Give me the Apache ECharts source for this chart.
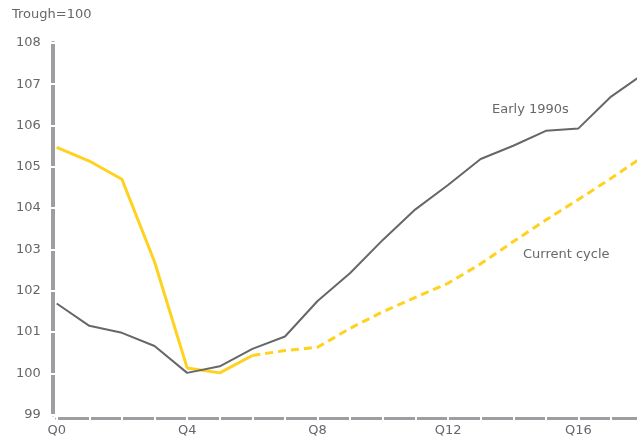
<!DOCTYPE html>
<html>
<head>
<meta charset="utf-8">
<script src="https://cdn.jsdelivr.net/npm/echarts@6/dist/echarts.min.js"></script>
<style>
html,body{margin:0;padding:0;background:#fff;}
#chart{width:637px;height:438px;}
</style>
</head>
<body>
<div id="chart"></div>
<script>
const categories = ['Q0','Q1','Q2','Q3','Q4','Q5','Q6','Q7','Q8','Q9','Q10','Q11','Q12','Q13','Q14','Q15','Q16','Q17','Q18'];
const early1990s = [101.69, 101.15, 100.98, 100.66, 100.01, 100.17, 100.59, 100.89, 101.75, 102.43, 103.23, 103.97, 104.56, 105.19, 105.51, 105.87, 105.93, 106.70, 107.25];
const currentActual = [105.47, 105.14, 104.70, 102.70, 100.13, 100.01, 100.43, null, null, null, null, null, null, null, null, null, null, null, null];
const currentForecast = [null, null, null, null, null, null, 100.43, 100.55, 100.63, 101.09, 101.49, 101.84, 102.18, 102.65, 103.19, 103.71, 104.21, 104.72, 105.26];
const yTicks = { min: 99, max: 108, interval: 1 };
const unitLabel = 'Trough=100';
const seriesLabels = ['Early 1990s', 'Current cycle'];

const FONT = 'DejaVu Sans';
const TXT = '#66676b';
const AXIS = '#9d9ea2';
const GRAY = '#66676a';
const YEL = '#ffd21f';

const chart = echarts.init(document.getElementById('chart'), null, {renderer:'canvas'});
const grid = {left: 56.7, top: 42.9, width: 587, height: 371.7, outerBoundsMode: 'none', containLabel: false};

chart.setOption({
  animation: false,
  backgroundColor: '#fff',
  grid: grid,
  xAxis: [{
    type: 'category', data: categories, boundaryGap: false, offset: 4, z: 0,
    axisLine: {show: true, lineStyle: {color: AXIS, width: 3}},
    axisTick: {show: false},
    axisLabel: {interval: 3, color: TXT, fontFamily: FONT, fontSize: 13, margin: 6},
    splitLine: {show: false}
  }, {
    type: 'category', data: categories, boundaryGap: false, offset: 6, position: 'bottom', z: 1,
    axisLine: {show: false},
    axisTick: {show: true, interval: 0, inside: true, length: 5, lineStyle: {color: '#fff', width: 2}},
    axisLabel: {show: false},
    splitLine: {show: false}
  }],
  yAxis: [{
    type: 'value', min: yTicks.min, max: yTicks.max, interval: yTicks.interval, offset: 4, z: 0,
    axisLine: {show: true, lineStyle: {color: AXIS, width: 4}},
    axisTick: {show: false},
    axisLabel: {color: TXT, fontFamily: FONT, fontSize: 13, margin: 12},
    splitLine: {show: false}
  }, {
    type: 'value', min: yTicks.min, max: yTicks.max, interval: yTicks.interval, offset: 6.5, position: 'left', z: 1,
    axisLine: {show: false},
    axisTick: {show: true, inside: true, length: 5.5, lineStyle: {color: '#fff', width: 2}},
    axisLabel: {show: false},
    splitLine: {show: false}
  }],
  series: [{
    name: seriesLabels[0], type: 'line', data: early1990s, symbol: 'none', z: 3,
    lineStyle: {color: GRAY, width: 2}
  }, {
    name: seriesLabels[1], type: 'line', data: currentActual, symbol: 'none', z: 2,
    lineStyle: {color: YEL, width: 3}
  }, {
    name: seriesLabels[1] + ' (projected)', type: 'line', data: currentForecast, symbol: 'none', z: 2,
    lineStyle: {color: YEL, width: 3, type: [8, 5]}
  }],
  graphic: [
    {type: 'text', left: 12, top: 8, style: {text: unitLabel, fill: TXT, font: '13px "DejaVu Sans"'}},
    {type: 'text', left: 492, top: 103, style: {text: seriesLabels[0], fill: TXT, font: '13px "DejaVu Sans"'}},
    {type: 'text', left: 523, top: 248, style: {text: seriesLabels[1], fill: TXT, font: '13px "DejaVu Sans"'}}
  ]
});
</script>
</body>
</html>
